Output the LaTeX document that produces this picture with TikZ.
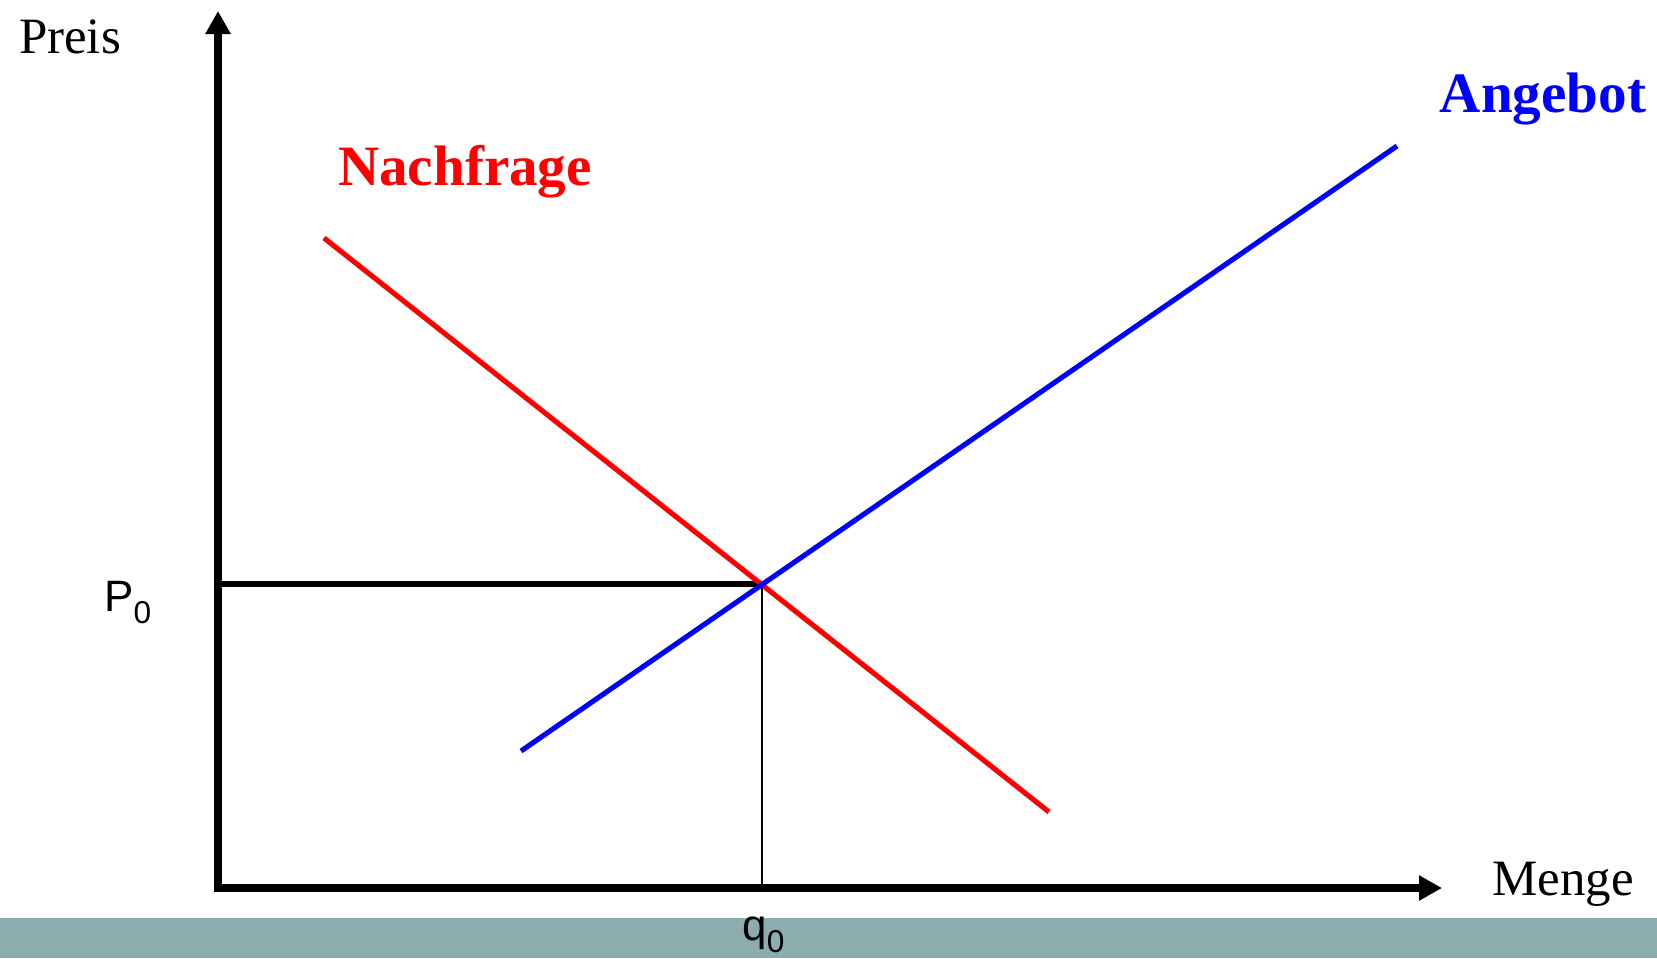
\documentclass[tikz,border=0pt]{standalone}
\usepackage{fontspec}
\setmainfont{Liberation Serif}
\setsansfont{Liberation Sans}
\usetikzlibrary{arrows.meta}
\definecolor{bandgrey}{RGB}{139,173,173}
\newcommand{\lowsub}[1]{\raisebox{-7pt}{\fontsize{18}{18}\selectfont #1}}

\begin{document}
\begin{tikzpicture}[x=0.02cm,y=-0.02cm,
    curvelabel/.style={font=\fontsize{32.5}{32.5}\selectfont\bfseries,inner sep=0pt,anchor=base},
    axislabel/.style={font=\fontsize{29}{29}\selectfont,inner sep=0pt,anchor=base},
    valuelabel/.style={font=\sffamily\fontsize{25}{25}\selectfont,inner sep=0pt,anchor=base west}]
    \useasboundingbox (0,0) rectangle (1657,958);
    \fill[bandgrey] (0,918) rectangle (1657,958);
    \coordinate (O) at (218,888);
    \coordinate (ytop) at (218,11);
    \coordinate (xend) at (1442,888);
    \coordinate (P0) at (218,584);
    \coordinate (E) at (762,584);
    \coordinate (q0) at (762,888);
    \coordinate (dA) at (324,238);
    \coordinate (dB) at (1049,812);
    \coordinate (sA) at (521,751);
    \coordinate (sB) at (1397,146);
    \draw[line width=3pt] (P0) -- (E);
    \draw[line width=1.3pt] (E) -- (q0);
    \draw[red,line width=2.9pt] (dA) -- (dB);
    \draw[blue,line width=2.9pt] (sA) -- (sB);
    \draw[line width=4.5pt,{Triangle[length=0.46cm,width=0.48cm]}-{Triangle[length=0.46cm,width=0.48cm]}] (ytop) -- (O) -- (xend);
    \node[axislabel] (preis) at (70,53) {Preis};
    \node[axislabel] (menge) at (1563,895) {Menge};
    \node[curvelabel,blue] (angebot) at (1543,112) {Angebot};
    \node[curvelabel,red] (nachfrage) at (465,185) {Nachfrage};
    \node[valuelabel] (plabel) at (104,611) {P\lowsub{0}};
    \node[valuelabel] (qlabel) at (742,940) {q\lowsub{0}};
  \end{tikzpicture}
\end{document}
